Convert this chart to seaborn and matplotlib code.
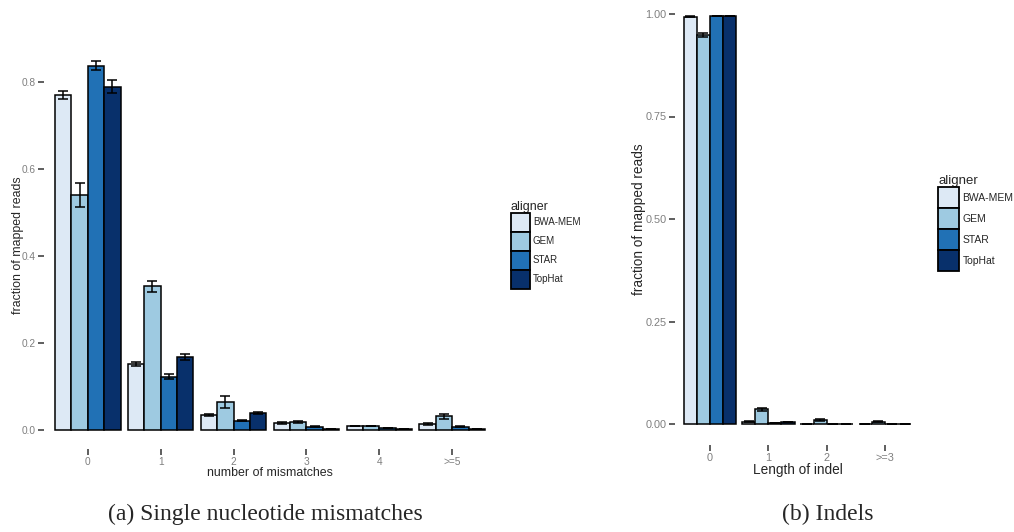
import numpy as np
import pandas as pd
import seaborn as sns
import matplotlib.pyplot as plt

sns.set_style("white")
plt.rcParams['font.family'] = ['Liberation Sans', 'DejaVu Sans']

aligners = ['BWA-MEM', 'GEM', 'STAR', 'TopHat']
colors = ['#dde9f5', '#9ecae1', '#2171b5', '#08306b']

# (a) mismatches
mm_cats = ['0', '1', '2', '3', '4', '>=5']
mm_bwa = [0.770, 0.151, 0.033, 0.015, 0.008, 0.013]
mm_gem = [0.540, 0.330, 0.064, 0.017, 0.008, 0.030]
mm_star = [0.838, 0.122, 0.020, 0.006, 0.003, 0.006]
mm_tophat = [0.790, 0.167, 0.038, 0.001, 0.001, 0.001]
mm_bwa_err = [0.009, 0.005, 0.003, 0.002, 0.001, 0.002]
mm_gem_err = [0.028, 0.013, 0.014, 0.003, 0.001, 0.005]
mm_star_err = [0.011, 0.006, 0.001, 0.001, 0.0005, 0.001]
mm_tophat_err = [0.015, 0.008, 0.002, 0.0, 0.0, 0.0]

# (b) indels
id_cats = ['0', '1', '2', '>=3']
id_bwa = [0.993, 0.006, 0.001, 0.001]
id_gem = [0.948, 0.036, 0.010, 0.006]
id_star = [0.995, 0.003, 0.001, 0.001]
id_tophat = [0.995, 0.004, 0.001, 0.0005]
id_bwa_err = [0.001, 0.001, 0.0, 0.0]
id_gem_err = [0.005, 0.004, 0.002, 0.001]
id_star_err = [0.0, 0.0, 0.0, 0.0]
id_tophat_err = [0.0, 0.0, 0.0, 0.0]


def long_df(cats, series, errs):
    rows = []
    for name, vals, ee in zip(aligners, series, errs):
        for c, v, e in zip(cats, vals, ee):
            rows.append({'cat': c, 'aligner': name, 'frac': v, 'err': e})
    return pd.DataFrame(rows)


def panel(ax, df, cats, xlabel, yticks, yfmt, ylim, tick_fs, lab_fs, ylab_x,
          leg_pos, leg_fs, key_px):
    sns.barplot(data=df, x='cat', y='frac', hue='aligner', order=cats, hue_order=aligners,
                palette=colors, saturation=1, width=0.9, gap=0, errorbar=None,
                edgecolor='black', linewidth=1.1, ax=ax, legend=True)
    for cont, name in zip(ax.containers, aligners):
        sub = df[df['aligner'] == name].set_index('cat').loc[cats]
        xs = [p.get_x() + p.get_width() / 2 for p in cont.patches]
        ax.errorbar(xs, sub['frac'], yerr=sub['err'], fmt='none', ecolor='black',
                    elinewidth=1.1, capsize=3.5, capthick=1.1, zorder=5)
    ax.set_xlim(-0.6, len(cats) - 0.4)
    ax.set_ylim(*ylim)
    ax.set_yticks(yticks)
    ax.set_yticklabels([yfmt.format(t) for t in yticks])
    for s in ax.spines.values():
        s.set_visible(False)
    ax.tick_params(axis='both', which='both', length=4, width=1.1, color='#333333',
                   labelcolor='#7f7f7f', labelsize=tick_fs, pad=2,
                   left=True, bottom=True)
    ax.set_xlabel(xlabel, fontsize=lab_fs, labelpad=0)
    ax.set_ylabel('fraction of mapped reads', fontsize=lab_fs)
    ax.yaxis.set_label_coords(ylab_x, 0.5)
    handles, labels = ax.get_legend_handles_labels()
    for h in handles:
        h.set_edgecolor('black')
        h.set_linewidth(1.3)
    f_px = leg_fs * 100 / 72
    ratio = key_px / f_px
    ax.legend(handles, labels, title='aligner', loc='center left', bbox_to_anchor=leg_pos,
              bbox_transform=ax.figure.transFigure, frameon=False, fontsize=leg_fs,
              title_fontsize=leg_fs + 2, handlelength=ratio,
              handleheight=(ratio - 0.245) / 0.65,
              handletextpad=0.3, labelspacing=0.0, borderpad=0, alignment='left')


fig = plt.figure(figsize=(10.14, 5.32), dpi=100)
W, H = 1014, 532
ax1 = fig.add_axes([44 / W, (H - 448.5) / H, (496 - 44) / W, (448.5 - 42) / H])
ax2 = fig.add_axes([675 / W, (H - 444.5) / H, (920 - 675) / W, (444.5 + 6.5) / H])

df1 = long_df(mm_cats, [mm_bwa, mm_gem, mm_star, mm_tophat],
              [mm_bwa_err, mm_gem_err, mm_star_err, mm_tophat_err])
df2 = long_df(id_cats, [id_bwa, id_gem, id_star, id_tophat],
              [id_bwa_err, id_gem_err, id_star_err, id_tophat_err])

panel(ax1, df1, mm_cats, 'number of mismatches', [0.0, 0.2, 0.4, 0.6, 0.8], '{:.1f}',
      (-0.0437, 0.8925), 7.3, 8.9, -0.045, (506 / W, 1 - 245 / H), 7, 19)
panel(ax2, df2, id_cats, 'Length of indel', [0.0, 0.25, 0.5, 0.75, 1.0], '{:.2f}',
      (-0.05, 1.05), 7.8, 9.8, -0.12, (933 / W, 1 - 223 / H), 7.5, 21)

fig.text(265 / W, 1 - 514 / H, '(a) Single nucleotide mismatches', ha='center', va='center',
         fontsize=17, family=['Liberation Serif', 'DejaVu Serif'])
fig.text(828 / W, 1 - 514 / H, '(b) Indels', ha='center', va='center',
         fontsize=17, family=['Liberation Serif', 'DejaVu Serif'])

fig.savefig('out.png', dpi=100, facecolor='white')
